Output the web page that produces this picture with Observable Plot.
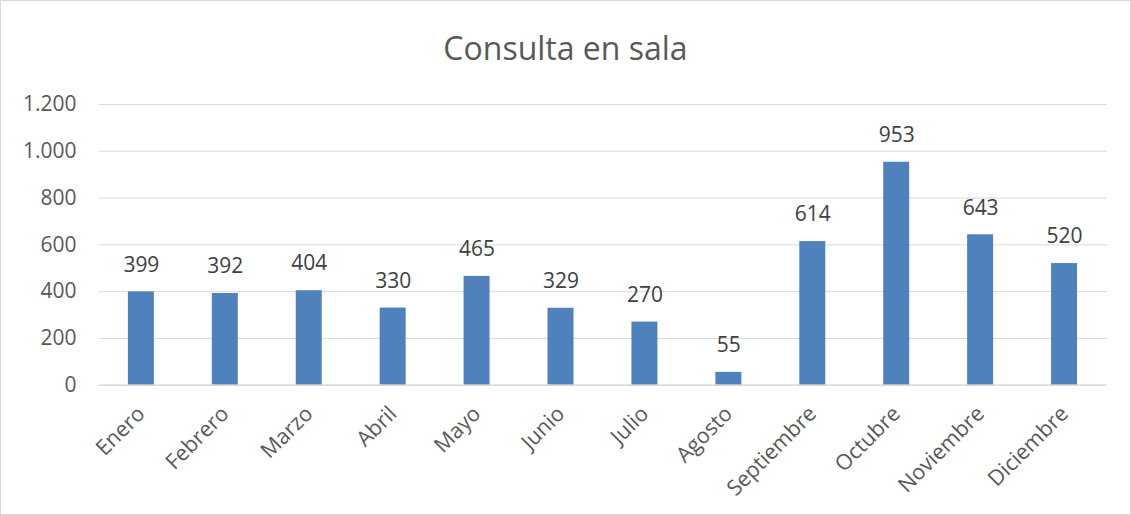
<!DOCTYPE html>
<html>
<head>
<meta charset="utf-8">
<script src="https://cdn.jsdelivr.net/npm/d3@7"></script>
<script src="https://cdn.jsdelivr.net/npm/@observablehq/plot@0.6"></script>
<style>
  html, body { margin: 0; padding: 0; background: #fff; }
  #chart {
    position: relative;
    width: 1131px; height: 515px;
    box-sizing: border-box;
    border: 1px solid #d9d9d9;
    overflow: hidden;
    font-family: "Open Sans", sans-serif;
  }
  #title {
    position: absolute; left: 0; top: 0; width: 100%;
    text-align: center;
    font-size: 32px; color: #595959;
    line-height: 1; padding-top: 31px;
  }
  #plot { position: absolute; left: -1px; top: 79px; }
</style>
</head>
<body>
<div id="chart">
  <div id="title">Consulta en sala</div>
  <div id="plot"></div>
</div>
<script>
const months = ["Enero","Febrero","Marzo","Abril","Mayo","Junio","Julio","Agosto","Septiembre","Octubre","Noviembre","Diciembre"];
const values = [399, 392, 404, 330, 465, 329, 270, 55, 614, 953, 643, 520];
const yTicks = [0, 200, 400, 600, 800, 1000, 1200];

const data = months.map((m, i) => ({month: m, value: values[i]}));
const fmt = d3.formatLocale({decimal: ",", thousands: ".", grouping: [3], currency: ["", ""]}).format(",d");

const chart = Plot.plot({
  width: 1131,
  height: 436,
  marginTop: 24,
  marginBottom: 131,
  marginLeft: 99,
  marginRight: 23,
  style: {fontFamily: "Open Sans, sans-serif", fontSize: "21px", color: "#595959", background: "transparent"},
  x: {domain: months, paddingInner: 0.69, paddingOuter: 0.345, label: null},
  y: {domain: [0, 1200], label: null},
  marks: [
    Plot.gridY(yTicks, {stroke: "#d9d9d9", strokeOpacity: 1, strokeWidth: 1}),
    Plot.axisY(yTicks, {tickSize: 0, tickPadding: 23, tickFormat: fmt, fill: "#595959", fontSize: 21, label: null}),
    Plot.axisX({tickSize: 0, tickPadding: 25, tickRotate: -45, fill: "#595959", fontSize: 21.5, label: null}),
    Plot.barY(data, {x: "month", y: "value", fill: "#4f81bd"}),
    Plot.ruleY([0], {stroke: "#d9d9d9", strokeWidth: 1.5}),
    Plot.text(data, {x: "month", y: "value", text: d => fmt(d.value), dy: -27, fill: "#404040", fontSize: 21})
  ]
});
document.getElementById("plot").appendChild(chart);
</script>
</body>
</html>
